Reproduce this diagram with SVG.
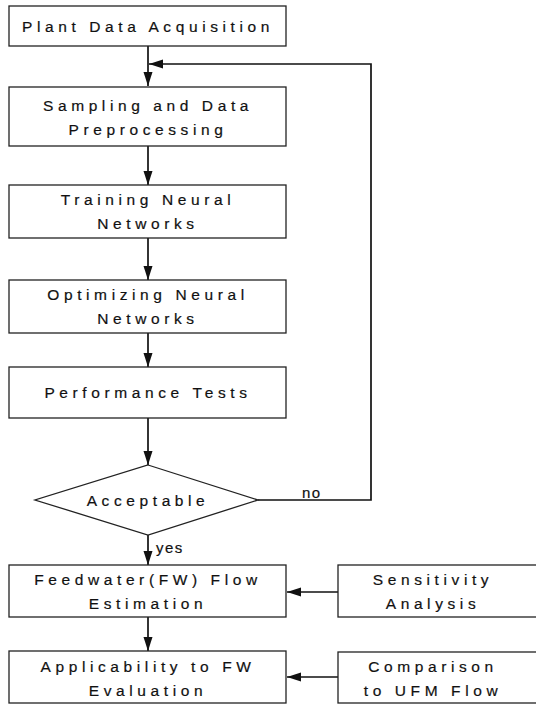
<svg xmlns="http://www.w3.org/2000/svg" width="536" height="704" viewBox="0 0 536 704">
<style>
  .box { fill: #ffffff; stroke: #222222; stroke-width: 1.3; }
  .lbl { font-family: "Liberation Sans", Arial, sans-serif; font-size: 15.5px; letter-spacing: 4.6px; fill: #111111; stroke: #111111; stroke-width: 0.2; text-anchor: middle; }
  .small { font-family: "Liberation Sans", Arial, sans-serif; font-size: 15px; letter-spacing: 1.5px; fill: #111111; stroke: #111111; stroke-width: 0.2; }
  .conn { fill: none; stroke: #111111; stroke-width: 1.7; }
</style>
<defs>
  <marker id="arrow" markerUnits="userSpaceOnUse" markerWidth="14" markerHeight="12" viewBox="0 0 14 12" refX="14" refY="6" orient="auto">
    <path d="M0,1.5 L14,6 L0,10.5 Z" fill="#111111"/>
  </marker>
</defs>
<rect width="536" height="704" fill="#ffffff"/>

<g id="connectors">
  <line class="conn" x1="148" y1="46" x2="148" y2="86" marker-end="url(#arrow)"/>
  <line class="conn" x1="148" y1="146" x2="148" y2="185" marker-end="url(#arrow)"/>
  <line class="conn" x1="148" y1="238" x2="148" y2="280" marker-end="url(#arrow)"/>
  <line class="conn" x1="148" y1="333" x2="148" y2="367" marker-end="url(#arrow)"/>
  <line class="conn" x1="148" y1="418" x2="148" y2="465" marker-end="url(#arrow)"/>
  <polyline class="conn" points="258,500 371,500 371,64 149,64" marker-end="url(#arrow)"/>
  <text class="small" x="302" y="498">no</text>
  <line class="conn" x1="148" y1="535" x2="148" y2="565" marker-end="url(#arrow)"/>
  <text class="small" x="156" y="553">yes</text>
  <line class="conn" x1="148" y1="617" x2="148" y2="651" marker-end="url(#arrow)"/>
  <line class="conn" x1="338" y1="592" x2="287" y2="592" marker-end="url(#arrow)"/>
  <line class="conn" x1="338" y1="677" x2="287" y2="677" marker-end="url(#arrow)"/>
</g>

<g id="plant-data-acquisition">
  <rect class="box" x="9" y="6" width="277" height="40"/>
  <text class="lbl" x="148" y="32">Plant Data Acquisition</text>
</g>

<g id="sampling-preprocessing">
  <rect class="box" x="9" y="87" width="277" height="59"/>
  <text class="lbl" x="148" y="111">Sampling and Data</text>
  <text class="lbl" x="148" y="135">Preprocessing</text>
</g>

<g id="training-neural-networks">
  <rect class="box" x="9" y="185" width="277" height="53"/>
  <text class="lbl" x="148" y="205">Training Neural</text>
  <text class="lbl" x="148" y="229">Networks</text>
</g>

<g id="optimizing-neural-networks">
  <rect class="box" x="9" y="280" width="277" height="53"/>
  <text class="lbl" x="148" y="300">Optimizing Neural</text>
  <text class="lbl" x="148" y="324">Networks</text>
</g>

<g id="performance-tests">
  <rect class="box" x="9" y="367" width="277" height="51"/>
  <text class="lbl" x="148" y="398">Performance Tests</text>
</g>

<g id="acceptable">
  <polygon class="box" points="148,465 258,500 148,535 35,500"/>
  <text class="lbl" x="148" y="506">Acceptable</text>
</g>

<g id="feedwater-flow-estimation">
  <rect class="box" x="9" y="565" width="277" height="52"/>
  <text class="lbl" x="148" y="585">Feedwater(FW) Flow</text>
  <text class="lbl" x="148" y="609">Estimation</text>
</g>

<g id="sensitivity-analysis">
  <rect class="box" x="338" y="565" width="210" height="52"/>
  <text class="lbl" x="433" y="585">Sensitivity</text>
  <text class="lbl" x="433" y="609">Analysis</text>
</g>

<g id="applicability-fw-evaluation">
  <rect class="box" x="9" y="651" width="277" height="52"/>
  <text class="lbl" x="148" y="672">Applicability to FW</text>
  <text class="lbl" x="148" y="696">Evaluation</text>
</g>

<g id="comparison-ufm-flow">
  <rect class="box" x="338" y="652" width="210" height="51"/>
  <text class="lbl" x="433" y="672">Comparison</text>
  <text class="lbl" x="433" y="696">to UFM Flow</text>
</g>
</svg>
